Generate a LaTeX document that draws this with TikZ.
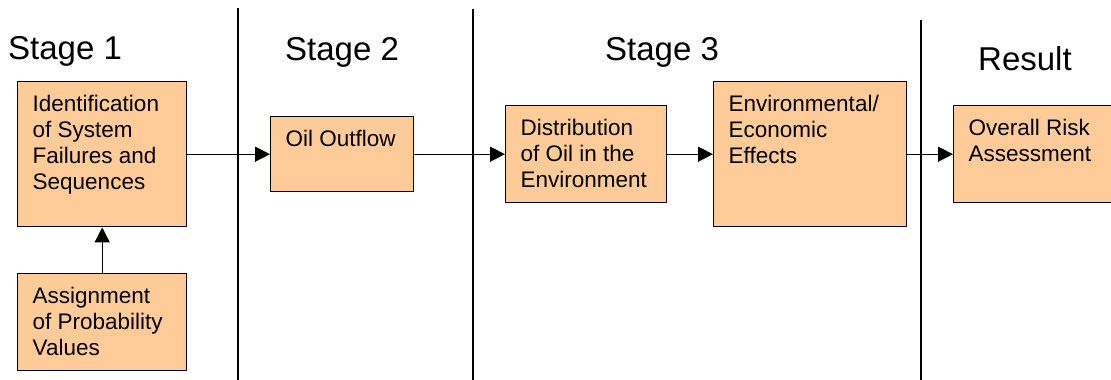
\documentclass[tikz,border=0pt]{standalone}
\usepackage{fontspec}
\setmainfont{Liberation Sans}
\usetikzlibrary{arrows.meta}
\definecolor{boxfill}{RGB}{255,204,153}
\newcommand{\boxtext}[3]{\parbox[c][#2][t]{#1}{\raggedright #3}}
\tikzset{
  procbox/.style={draw=black, line width=1.4pt, fill=boxfill, inner xsep=15pt, inner ysep=13pt,
    anchor=north west, font=\fontsize{22.5}{26}\selectfont},
  stagelbl/.style={anchor=base west, inner sep=0pt, font=\fontsize{33}{38}\selectfont},
  flow/.style={line width=1.4pt, -{Triangle[length=15pt,width=15pt]}},
  divider/.style={line width=1.4pt}
}
\begin{document}
\begin{tikzpicture}[x=1pt,y=-1pt]
\useasboundingbox (0,0) rectangle (1111,380);
% dividers
\coordinate (d1t) at (238,8);   \coordinate (d1b) at (238,380);
\coordinate (d2t) at (473,9);   \coordinate (d2b) at (473,380);
\coordinate (d3t) at (921,20);  \coordinate (d3b) at (921,380);
\draw[divider] (d1t) -- (d1b);
\draw[divider] (d2t) -- (d2b);
\draw[divider] (d3t) -- (d3b);
% stage labels
\node[stagelbl] (s1) at (8,59) {Stage 1};
\node[stagelbl] (s2) at (285,60) {Stage 2};
\node[stagelbl] (s3) at (605,60) {Stage 3};
\node[stagelbl] (s4) at (978,70) {Result};
% boxes
\node[procbox] (ident) at (17,81) {\boxtext{139pt}{119pt}{Identification of System Failures and Sequences}};
\node[procbox] (assign) at (17,273) {\boxtext{139pt}{71pt}{Assignment of Probability Values}};
\node[procbox] (oil) at (270,116) {\boxtext{113pt}{49pt}{Oil Outflow}};
\node[procbox] (dist) at (505,105) {\boxtext{131pt}{71pt}{Distribution of Oil in the Environment}};
\node[procbox] (env) at (713,81) {\boxtext{163pt}{119pt}{Environmental/\\ Economic\\ Effects}};
\node[procbox] (risk) at (953,105) {\boxtext{150pt}{71pt}{Overall Risk Assessment}};
% connectors
\draw[flow] (assign.north) -- (ident.south);
\draw[flow] (ident.east) -- (oil.west);
\draw[flow] (oil.east) -- (dist.west);
\draw[flow] (dist.east) -- (env.west);
\draw[flow] (env.east) -- (risk.west);
\end{tikzpicture}
\end{document}
